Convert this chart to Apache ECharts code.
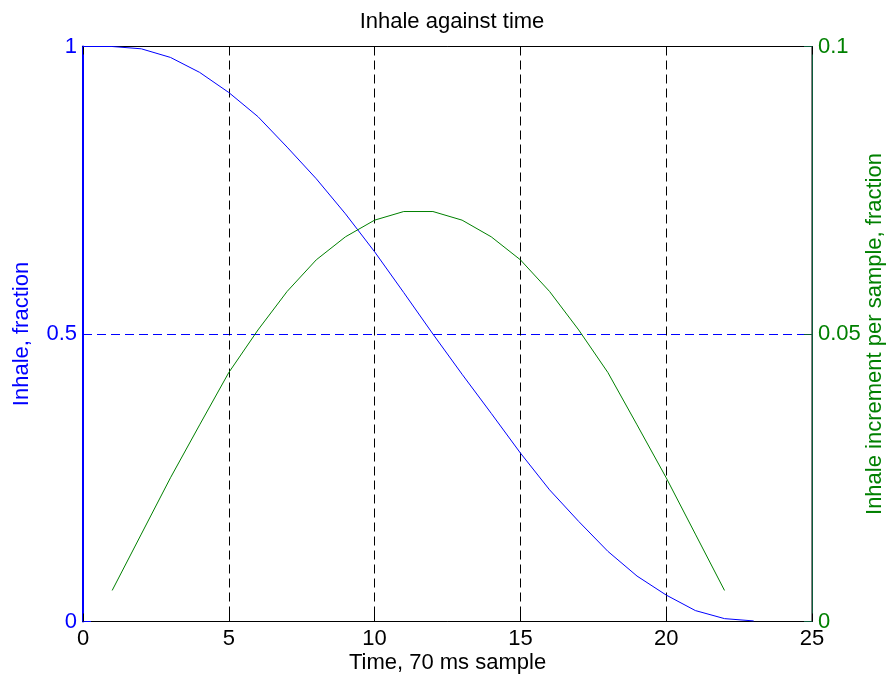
<!DOCTYPE html>
<html>
<head>
<meta charset="utf-8">
<script src="https://cdn.jsdelivr.net/npm/echarts@6/dist/echarts.min.js"></script>
<style>
html,body{margin:0;padding:0;background:#fff;}
#chart{width:887px;height:677px;}
</style>
</head>
<body>
<div id="chart"></div>
<script>
// Data
var blueTime = [0,1,2,3,4,5,6,7,8,9,10,11,12,13,14,15,16,17,18,19,20,21,22,23];
var inhale = [1,1,0.996,0.981,0.955,0.920,0.878,0.825,0.770,0.709,0.643,0.572,0.500,0.430,0.362,0.293,0.229,0.174,0.122,0.079,0.046,0.019,0.005,0.001];
var greenTime = [1,2,3,4,5,6,7,8,9,10,11,12,13,14,15,16,17,18,19,20,21,22];
var increment = [0.0054,0.0152,0.0250,0.0342,0.0433,0.0507,0.0574,0.0629,0.0669,0.0698,0.0713,0.0713,0.0698,0.0669,0.0629,0.0574,0.0507,0.0433,0.0342,0.0250,0.0152,0.0054];
var xTicks = {min:0, max:25, interval:5};
var leftTicks = {min:0, max:1, interval:0.5};
var rightTicks = {min:0, max:0.1, interval:0.05};

var FONT = '"Liberation Sans", Arial, Helvetica, sans-serif';
var FS = 22;
var BLUE = '#0000ff';
var GREEN = '#008000';

function pairs(xs, ys){ return xs.map(function(x,i){ return [x, ys[i]]; }); }

var chart = echarts.init(document.getElementById('chart'), null, {renderer:'canvas'});
chart.setOption({
  animation:false,
  backgroundColor:'#ffffff',
  title:{
    text:'Inhale against time',
    left:447, top:6, textAlign:'center',
    textStyle:{fontFamily:FONT, fontSize:FS, fontWeight:'normal', color:'#000'}
  },
  grid:{left:83, right:75, top:46.5, bottom:55.5, show:true, borderColor:'#000', borderWidth:1, backgroundColor:'transparent', containLabel:false, outerBoundsMode:'none'},
  xAxis:[{
    type:'value', position:'bottom', min:xTicks.min, max:xTicks.max, interval:xTicks.interval,
    name:'Time, 70 ms sample', nameLocation:'middle', nameGap:30, nameMoveOverlap:false,
    nameTextStyle:{fontFamily:FONT, fontSize:FS, color:'#000'},
    axisLine:{show:true, onZero:false, lineStyle:{color:'#000', width:1}},
    axisTick:{show:true, inside:true, length:8, lineStyle:{color:'#000'}},
    axisLabel:{show:true, margin:6, fontFamily:FONT, fontSize:FS, color:'#000'},
    splitLine:{show:true, showMinLine:false, showMaxLine:false, lineStyle:{color:'#000', type:[9,5], width:1}}
  },{
    type:'value', position:'top', min:xTicks.min, max:xTicks.max, interval:xTicks.interval,
    axisLine:{show:true, onZero:false, lineStyle:{color:'#000', width:1}},
    axisTick:{show:true, inside:true, length:8, lineStyle:{color:'#000'}},
    axisLabel:{show:false},
    splitLine:{show:false}
  }],
  yAxis:[{
    type:'value', position:'left', min:leftTicks.min, max:leftTicks.max, interval:leftTicks.interval,
    name:'Inhale, fraction', nameLocation:'middle', nameGap:50, nameMoveOverlap:false,
    nameTextStyle:{fontFamily:FONT, fontSize:FS, color:BLUE},
    axisLine:{show:true, onZero:false, lineStyle:{color:BLUE, width:2}},
    axisTick:{show:true, inside:true, length:8, lineStyle:{color:BLUE}},
    axisLabel:{show:true, margin:6, fontFamily:FONT, fontSize:FS, color:BLUE},
    splitLine:{show:true, showMinLine:false, showMaxLine:false, lineStyle:{color:BLUE, type:[9,5], width:1}}
  },{
    type:'value', position:'right', min:rightTicks.min, max:rightTicks.max, interval:rightTicks.interval,
    name:'Inhale increment per sample, fraction', nameLocation:'middle', nameGap:52, nameMoveOverlap:false,
    nameTextStyle:{fontFamily:FONT, fontSize:FS, color:GREEN},
    axisLine:{show:true, onZero:false, lineStyle:{color:'#0a5a3a', width:1}},
    axisTick:{show:true, inside:true, length:8, lineStyle:{color:'#0a5a3a'}},
    axisLabel:{show:true, margin:6, fontFamily:FONT, fontSize:FS, color:GREEN},
    splitLine:{show:false}
  }],
  series:[{
    type:'line', name:'Inhale', xAxisIndex:0, yAxisIndex:0,
    data:pairs(blueTime, inhale), showSymbol:false, symbol:'none',
    lineStyle:{color:BLUE, width:1}, itemStyle:{color:BLUE}
  },{
    type:'line', name:'Increment', xAxisIndex:0, yAxisIndex:1,
    data:pairs(greenTime, increment), showSymbol:false, symbol:'none',
    lineStyle:{color:GREEN, width:1}, itemStyle:{color:GREEN}
  }]
});
</script>
</body>
</html>
